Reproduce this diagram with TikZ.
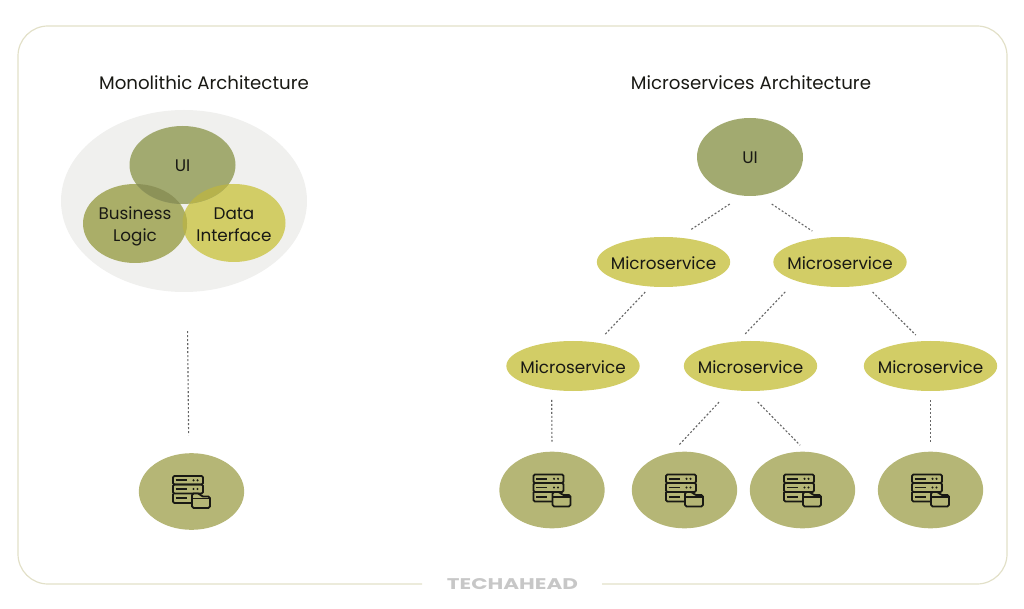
\documentclass[tikz,border=0pt]{standalone}
\usepackage{fontspec}
\usepackage{graphicx}
\usetikzlibrary{shapes.geometric}
\setmainfont{Poppins}
\definecolor{frameline}{RGB}{226,224,200}
\definecolor{outerfill}{RGB}{240,240,238}
\definecolor{sagefill}{RGB}{162,170,112}
\definecolor{logicfill}{RGB}{170,174,104}
\definecolor{yellowfill}{RGB}{210,205,102}
\definecolor{dbfill}{RGB}{181,182,118}
\definecolor{inkline}{RGB}{25,25,20}
\definecolor{darkoverlap}{RGB}{140,146,88}
\definecolor{brightoverlap}{RGB}{182,178,76}
\newcommand{\blobtext}[2]{\raisebox{-#1}[\height][\depth]{\begin{tabular}{@{}c@{}}#2\end{tabular}}}
\tikzset{every picture/.style={line width=0.75pt}}
\tikzset{
  blob/.style={ellipse,inner xsep=-14pt,inner ysep=-6pt,outer sep=0pt,text=inkline,font=\fontsize{12.6}{16.5}\selectfont},
  uinode/.style={blob,fill=sagefill,minimum width=79.5pt,minimum height=58.5pt},
  svcnode/.style={blob,fill=yellowfill,minimum width=100pt,minimum height=37.5pt},
  dbnode/.style={blob,fill=dbfill,minimum width=79pt,minimum height=57.5pt},
  titlenode/.style={inner sep=0pt,outer sep=0pt,text=inkline,font=\fontsize{13.65}{15}\selectfont},
  link/.style={draw=black!60,line width=0.85pt,dash pattern={on 1.5pt off 1.5pt}},
  dbicon/.pic={
    \begin{scope}[yscale=-1,draw=inkline,line width=1.35pt,line join=round]
    \draw [rounded corners=1pt] (-18.5,-15.5) rectangle (11.5,-7) ;
    \draw [rounded corners=1pt] (-18.5,-7) rectangle (11.5,2) ;
    \draw [rounded corners=1pt] (0,11.5) -- (-18.5,11.5) -- (-18.5,2) ;
    \draw (-16,-11.2) -- (-5,-11.2) ;
    \draw (-16,-2.5) -- (-5,-2.5) ;
    \draw (-16,6.8) -- (-5,6.8) ;
    \fill [inkline] (2,-11.2) circle [radius=1.2] (6,-11.2) circle [radius=1.2] ;
    \fill [inkline] (2,-2.5) circle [radius=1.2] (6,-2.5) circle [radius=1.2] ;
    \draw [fill=dbfill,rounded corners=1.2pt] (0.5,16.5) -- (0.5,2) -- (8,2) -- (10,5) -- (18.5,5) -- (18.5,16.5) -- cycle ;
    \draw (0.5,7) -- (18.5,7) ;
    \end{scope}
  }
}

\begin{document}
\begin{tikzpicture}[x=0.75pt,y=0.75pt,yscale=-1,xscale=1]
\useasboundingbox (0,0) rectangle (1024,609);

%Frame with a gap for the logo
\draw [frameline,line width=0.9pt] (422,584) -- (48,584) arc [start angle=90,end angle=180,radius=30] -- (18,56) arc [start angle=180,end angle=270,radius=30] -- (977,26) arc [start angle=270,end angle=360,radius=30] -- (1007,554) arc [start angle=0,end angle=90,radius=30] -- (602,584) ;

% Text Node
\node [titlenode] (monotitle) at (204,82.6) {Monolithic Architecture};
% Text Node
\node [titlenode] (microtitle) at (751,82.6) {Microservices Architecture};
% Text Node
\node [inner sep=0pt,outer sep=0pt,text=black!22] (logo) at (512.5,584) {\scalebox{1.39}[1]{\fontsize{11.6}{12}\selectfont\bfseries TECHAHEAD}};

%Monolithic side
\node [ellipse,fill=outerfill,inner sep=0pt,outer sep=0pt,minimum width=184.5pt,minimum height=136.5pt] (outer) at (184,201) {};
\node [blob,fill=yellowfill,minimum width=77.25pt,minimum height=58.5pt] (data) at (234,223) {\blobtext{2.25pt}{Data\\Interface}};
\node [blob,fill=logicfill,minimum width=78pt,minimum height=59.25pt] (logic) at (135,223.5) {\blobtext{2.2pt}{Business\\Logic}};
\node [uinode] (monoui) at (182.5,165) {\blobtext{1.5pt}{UI}};
%Overlaps
\begin{scope}
\clip (182.5,165) ellipse [x radius=53,y radius=39];
\fill [darkoverlap] (135,223.5) ellipse [x radius=52,y radius=39.5];
\fill [brightoverlap] (234,223) ellipse [x radius=51.5,y radius=39];
\end{scope}
\begin{scope}
\clip (135,223.5) ellipse [x radius=52,y radius=39.5];
\fill [brightoverlap] (234,223) ellipse [x radius=51.5,y radius=39];
\end{scope}
\node [dbnode] (monodb) at (191.5,491.5) {};
\pic at (monodb.center) {dbicon};

%Microservices side
\node [uinode] (ui) at (750,157) {\blobtext{1.5pt}{UI}};
\node [svcnode] (svcleft) at (663.5,262) {\blobtext{2.25pt}{Microservice}};
\node [svcnode] (svcright) at (840,262) {\blobtext{2.25pt}{Microservice}};
\node [svcnode] (rowone) at (573,366) {\blobtext{2.25pt}{Microservice}};
\node [svcnode] (rowtwo) at (750.5,366) {\blobtext{2.25pt}{Microservice}};
\node [svcnode] (rowthree) at (930.5,366) {\blobtext{2.25pt}{Microservice}};
\node [dbnode] (dbone) at (552,490) {};
\node [dbnode] (dbtwo) at (684.5,490) {};
\node [dbnode] (dbthree) at (802.5,490) {};
\node [dbnode] (dbfour) at (930.5,490) {};
\pic at (dbone.center) {dbicon};
\pic at (dbtwo.center) {dbicon};
\pic at (dbthree.center) {dbicon};
\pic at (dbfour.center) {dbicon};

%Straight Lines
\draw [link,shorten <=29.3pt,shorten >=13.5pt] (outer.272.8) -- (monodb.94.5) ;
\draw [link,shorten <=11.5pt,shorten >=10.6pt] (ui.259.5) -- (svcleft.58) ;
\draw [link,shorten <=11.6pt,shorten >=9.2pt] (ui.283.5) -- (svcright.126.4) ;
\draw [link,shorten <=5.7pt,shorten >=7.9pt] (svcleft.242.4) -- (rowone.44.6) ;
\draw [link,shorten <=11.6pt,shorten >=6.8pt] (svcright.203.7) -- (rowtwo.117.5) ;
\draw [link,shorten <=7.4pt,shorten >=6.5pt] (svcright.318.7) -- (rowthree.109.7) ;
\draw [link,shorten <=7.7pt,shorten >=7.5pt] (rowone.228.5) -- (dbone.north) ;
\draw [link,shorten <=12.6pt,shorten >=8pt] (rowtwo.230.1) -- (dbtwo.109.8) ;
\draw [link,shorten <=11.5pt,shorten >=6.8pt] (rowtwo.262.7) -- (dbthree.84.4) ;
\draw [link,shorten <=6.8pt,shorten >=7.5pt] (rowthree.south) -- (dbfour.north) ;

\end{tikzpicture}
\end{document}
